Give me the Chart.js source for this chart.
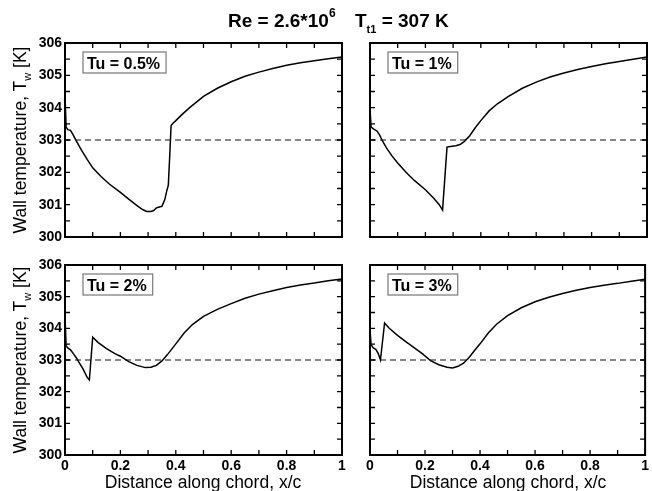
<!DOCTYPE html>
<html>
<head>
<meta charset="utf-8">
<script src="https://cdn.jsdelivr.net/npm/chart.js@4.4.1/dist/chart.umd.min.js"></script>
<style>
  html, body { margin:0; padding:0; background:#fff; }
  #wrap { position:relative; width:652px; height:491px; overflow:hidden; background:#fff; }
  canvas { position:absolute; left:0; top:0; }
  .txt { position:absolute; color:#000; white-space:pre; font-family:'Liberation Sans', Arial, sans-serif; }
  .title { font-weight:bold; font-size:19px; line-height:19px; top:11px; }
  .sup { font-size:12px; position:relative; top:-10px; }
  .sub { font-size:11px; position:relative; top:6px; }
  .ytitle { font-size:17.5px; line-height:17px; transform:translate(-50%,-50%) rotate(-90deg); }
  .xtitle { font-size:17.5px; line-height:17px; transform:translateX(-50%); top:474px; }
  .ysub { font-size:11px; position:relative; top:5px; }
</style>
</head>
<body>
<div id="wrap">
  <canvas id="c1" width="652" height="491"></canvas>
  <canvas id="c2" width="652" height="491"></canvas>
  <canvas id="c3" width="652" height="491"></canvas>
  <canvas id="c4" width="652" height="491"></canvas>

  <div class="txt title" style="left:228px;">Re = 2.6*10<span class="sup">6</span></div>
  <div class="txt title" style="left:355px;">T<span class="sub">t1</span> = 307 K</div>

  <div class="txt ytitle" style="left:21px; top:140px;">Wall temperature, T<span class="ysub">w</span> [K]</div>
  <div class="txt ytitle" style="left:21px; top:360px;">Wall temperature, T<span class="ysub">w</span> [K]</div>

  <div class="txt xtitle" style="left:203px;">Distance along chord, x/c</div>
  <div class="txt xtitle" style="left:508px;">Distance along chord, x/c</div>
</div>

<script>
// ---------------- data ----------------
const panelLabels = ['Tu = 0.5%', 'Tu = 1%', 'Tu = 2%', 'Tu = 3%'];

const tu05_x = [0, 0.004, 0.01, 0.02, 0.03, 0.04, 0.06, 0.08, 0.1, 0.13, 0.16, 0.2, 0.23, 0.26, 0.28, 0.295, 0.31, 0.32, 0.33, 0.34, 0.35, 0.36, 0.368, 0.373, 0.378, 0.383, 0.39, 0.4, 0.42, 0.45, 0.5, 0.55, 0.6, 0.65, 0.7, 0.75, 0.8, 0.85, 0.9, 0.95, 1.0];
const tu05_y = [304.4, 303.4, 303.32, 303.3, 303.15, 302.98, 302.68, 302.4, 302.14, 301.87, 301.64, 301.38, 301.17, 300.97, 300.85, 300.79, 300.79, 300.82, 300.9, 300.93, 300.95, 301.15, 301.45, 301.6, 302.5, 303.45, 303.52, 303.6, 303.77, 304.0, 304.35, 304.6, 304.8, 304.97, 305.1, 305.21, 305.31, 305.39, 305.45, 305.51, 305.57];

const tu1_x = [0, 0.004, 0.015, 0.025, 0.035, 0.045, 0.06, 0.08, 0.1, 0.13, 0.16, 0.2, 0.23, 0.25, 0.262, 0.278, 0.29, 0.31, 0.325, 0.34, 0.36, 0.38, 0.4, 0.43, 0.46, 0.5, 0.55, 0.6, 0.65, 0.7, 0.75, 0.8, 0.85, 0.9, 0.95, 1.0];
const tu1_y = [303.95, 303.4, 303.33, 303.28, 303.15, 302.97, 302.75, 302.5, 302.29, 302.0, 301.75, 301.46, 301.2, 301.0, 300.83, 302.78, 302.8, 302.82, 302.86, 302.95, 303.13, 303.38, 303.6, 303.9, 304.12, 304.35, 304.6, 304.79, 304.95, 305.07, 305.18, 305.27, 305.36, 305.43, 305.5, 305.57];

const tu2_x = [0, 0.004, 0.01, 0.02, 0.03, 0.04, 0.05, 0.065, 0.08, 0.088, 0.1, 0.12, 0.15, 0.18, 0.2, 0.23, 0.26, 0.29, 0.31, 0.33, 0.35, 0.37, 0.4, 0.43, 0.46, 0.5, 0.55, 0.6, 0.65, 0.7, 0.75, 0.8, 0.85, 0.9, 0.95, 1.0];
const tu2_y = [304.4, 303.45, 303.38, 303.32, 303.2, 303.08, 302.93, 302.72, 302.45, 302.37, 303.72, 303.55, 303.36, 303.2, 303.12, 302.95, 302.83, 302.76, 302.77, 302.83, 302.97, 303.17, 303.51, 303.85, 304.12, 304.38, 304.6, 304.78, 304.95, 305.08, 305.19, 305.29, 305.37, 305.43, 305.5, 305.56];

const tu3_x = [0, 0.004, 0.012, 0.022, 0.03, 0.038, 0.053, 0.07, 0.1, 0.13, 0.16, 0.19, 0.22, 0.25, 0.28, 0.3, 0.32, 0.34, 0.36, 0.38, 0.4, 0.43, 0.46, 0.5, 0.55, 0.6, 0.65, 0.7, 0.75, 0.8, 0.85, 0.9, 0.95, 1.0];
const tu3_y = [303.95, 303.48, 303.38, 303.33, 303.2, 303.0, 304.17, 304.0, 303.78, 303.58, 303.39, 303.2, 302.98, 302.85, 302.77, 302.75, 302.8, 302.9, 303.08, 303.3, 303.51, 303.85, 304.13, 304.4, 304.65, 304.84, 304.98, 305.1, 305.2, 305.29, 305.36, 305.42, 305.49, 305.55];

// reference (dashed) line
const ref_x = [0, 1];
const ref_y = [303, 303];

// ticks
const xTickValues = [0, 0.2, 0.4, 0.6, 0.8, 1];
const xTickLabels = ['0', '0.2', '0.4', '0.6', '0.8', '1'];
const yTickValues = [300, 301, 302, 303, 304, 305, 306];
const yTickLabels = ['300', '301', '302', '303', '304', '305', '306'];
const xMinorTicks = [0, 0.1, 0.2, 0.3, 0.4, 0.5, 0.6, 0.7, 0.8, 0.9, 1];
const yMinorTicks = [300, 300.5, 301, 301.5, 302, 302.5, 303, 303.5, 304, 304.5, 305, 305.5, 306];

// ---------------- drawing ----------------
const tickFont = { family: "'Liberation Sans', Arial, sans-serif", weight: 'bold', size: 14 };

const framePlugin = {
  id: 'frame',
  afterDraw(chart, args, opts) {
    const { ctx, chartArea: a, scales: { x, y } } = chart;
    ctx.save();
    ctx.strokeStyle = '#000';
    ctx.lineWidth = 1.3;
    const tl = 5;
    ctx.beginPath();
    xMinorTicks.forEach(v => {
      const px = x.getPixelForValue(v);
      ctx.moveTo(px, a.bottom); ctx.lineTo(px, a.bottom - tl);
      ctx.moveTo(px, a.top); ctx.lineTo(px, a.top + tl);
    });
    yMinorTicks.forEach(v => {
      const py = y.getPixelForValue(v);
      ctx.moveTo(a.left, py); ctx.lineTo(a.left + tl, py);
      ctx.moveTo(a.right, py); ctx.lineTo(a.right - tl, py);
    });
    ctx.stroke();
    ctx.lineWidth = 2;
    ctx.strokeRect(a.left, a.top, a.right - a.left, a.bottom - a.top);

    // legend box
    ctx.font = "bold 16px 'Liberation Sans', Arial, sans-serif";
    const tw = ctx.measureText(opts.label).width;
    const bx = a.left + 18, by = a.top + 9, bw = tw + 10, bh = 21;
    ctx.fillStyle = '#fff';
    ctx.fillRect(bx, by, bw, bh);
    ctx.strokeStyle = '#777';
    ctx.lineWidth = 1.2;
    ctx.strokeRect(bx, by, bw, bh);
    ctx.fillStyle = '#000';
    ctx.textBaseline = 'alphabetic';
    ctx.textAlign = 'left';
    ctx.fillText(opts.label, bx + 4, by + 16.5);
    ctx.restore();
  }
};

function pts(xs, ys) { return xs.map((v, i) => ({ x: v, y: ys[i] })); }

function makeChart(id, xs, ys, label, pad, showY, showX) {
  new Chart(document.getElementById(id), {
    type: 'line',
    data: {
      datasets: [
        { data: pts(ref_x, ref_y), borderColor: '#111', borderWidth: 1.2, borderDash: [6, 4], pointRadius: 0, tension: 0 },
        { data: pts(xs, ys), borderColor: '#000', borderWidth: 1.5, pointRadius: 0, tension: 0 }
      ]
    },
    options: {
      responsive: false,
      animation: false,
      events: [],
      layout: { padding: pad },
      plugins: { legend: { display: false }, tooltip: { enabled: false }, frame: { label } },
      scales: {
        x: {
          type: 'linear', min: 0, max: 1, display: showX,
          grid: { display: false, drawTicks: false },
          border: { display: false },
          afterBuildTicks(s) { s.ticks = xTickValues.map(v => ({ value: v })); },
          ticks: { font: tickFont, color: '#000', padding: 3, maxRotation: 0, autoSkip: false,
                   callback: (v, i) => xTickLabels[i] },
          afterFit(s) { s.height = showX ? 20 : 0; }
        },
        y: {
          type: 'linear', min: 300, max: 306, display: showY,
          grid: { display: false, drawTicks: false },
          border: { display: false },
          afterBuildTicks(s) { s.ticks = yTickValues.map(v => ({ value: v })); },
          ticks: { font: tickFont, color: '#000', padding: 3, autoSkip: false,
                   callback: (v, i) => yTickLabels[i] },
          afterFit(s) { s.width = showY ? 65 : 0; }
        }
      }
    },
    plugins: [framePlugin]
  });
}

// panel geometry (padding inside a full-size canvas)
makeChart('c1', tu05_x, tu05_y, panelLabels[0], { left: 0, top: 43, right: 310, bottom: 254 }, true, false);
makeChart('c2', tu1_x, tu1_y, panelLabels[1], { left: 370, top: 43, right: 5, bottom: 254 }, false, false);
makeChart('c3', tu2_x, tu2_y, panelLabels[2], { left: 0, top: 265, right: 310, bottom: 16 }, true, true);
makeChart('c4', tu3_x, tu3_y, panelLabels[3], { left: 370, top: 265, right: 5, bottom: 16 }, false, true);
</script>
</body>
</html>
